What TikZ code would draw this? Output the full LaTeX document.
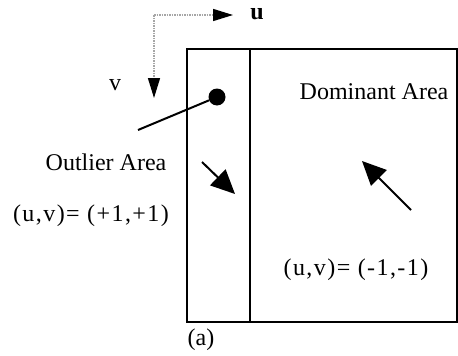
\documentclass[tikz,border=0pt]{standalone}
\usepackage{fontspec}
\setmainfont{Liberation Serif}
\usetikzlibrary{arrows.meta}
\begin{document}
\begin{tikzpicture}[x=1pt,y=-1pt,
  lbl/.style={font=\fontsize{24}{28}\selectfont, inner sep=0pt},
  widelbl/.style={font=\fontsize{24}{28}\selectfont\addfontfeature{LetterSpace=6}, inner sep=0pt},
  axis/.style={draw=gray!70, densely dotted, line width=1.5pt, -{Triangle[length=20pt,width=12pt,fill=black,color=black]}},
  bigarrow/.style={line width=2pt, -{Triangle[length=24pt,width=22pt]}}]
\useasboundingbox (0,0) rectangle (458,356);
\draw[line width=2pt] (187,49) rectangle (457,322);
\draw[line width=1.5pt] (250,49) -- (250,322);
\coordinate (o) at (154,15);
\coordinate (ue) at (233,15);
\coordinate (ve) at (154,98);
\draw[axis] (o) -- (ue);
\draw[axis] (o) -- (ve);
\node[lbl, font=\fontsize{24}{28}\selectfont\bfseries] (u) at (257,14) {u};
\node[lbl] (v) at (115,85) {v};
\node[circle, fill=black, inner sep=0pt, minimum size=17pt] (dot) at (217,97) {};
\coordinate (lend) at (138,130);
\draw[line width=2pt] (dot) -- (lend);
\node[lbl] (out) at (106,162) {Outlier Area};
\node[widelbl] (uv1) at (91,216) {(u,v)= (+1,+1)};
\node[lbl] (dom) at (374,92) {Dominant Area};
\node[widelbl] (uv2) at (356,270) {(u,v)= (-1,-1)};
\node[lbl] (a) at (201,340) {(a)};
\coordinate (a1s) at (202,162);
\coordinate (a1e) at (235,194);
\draw[bigarrow] (a1s) -- (a1e);
\coordinate (a2s) at (411,210);
\coordinate (a2e) at (362,161);
\draw[bigarrow] (a2s) -- (a2e);
\end{tikzpicture}
\end{document}
